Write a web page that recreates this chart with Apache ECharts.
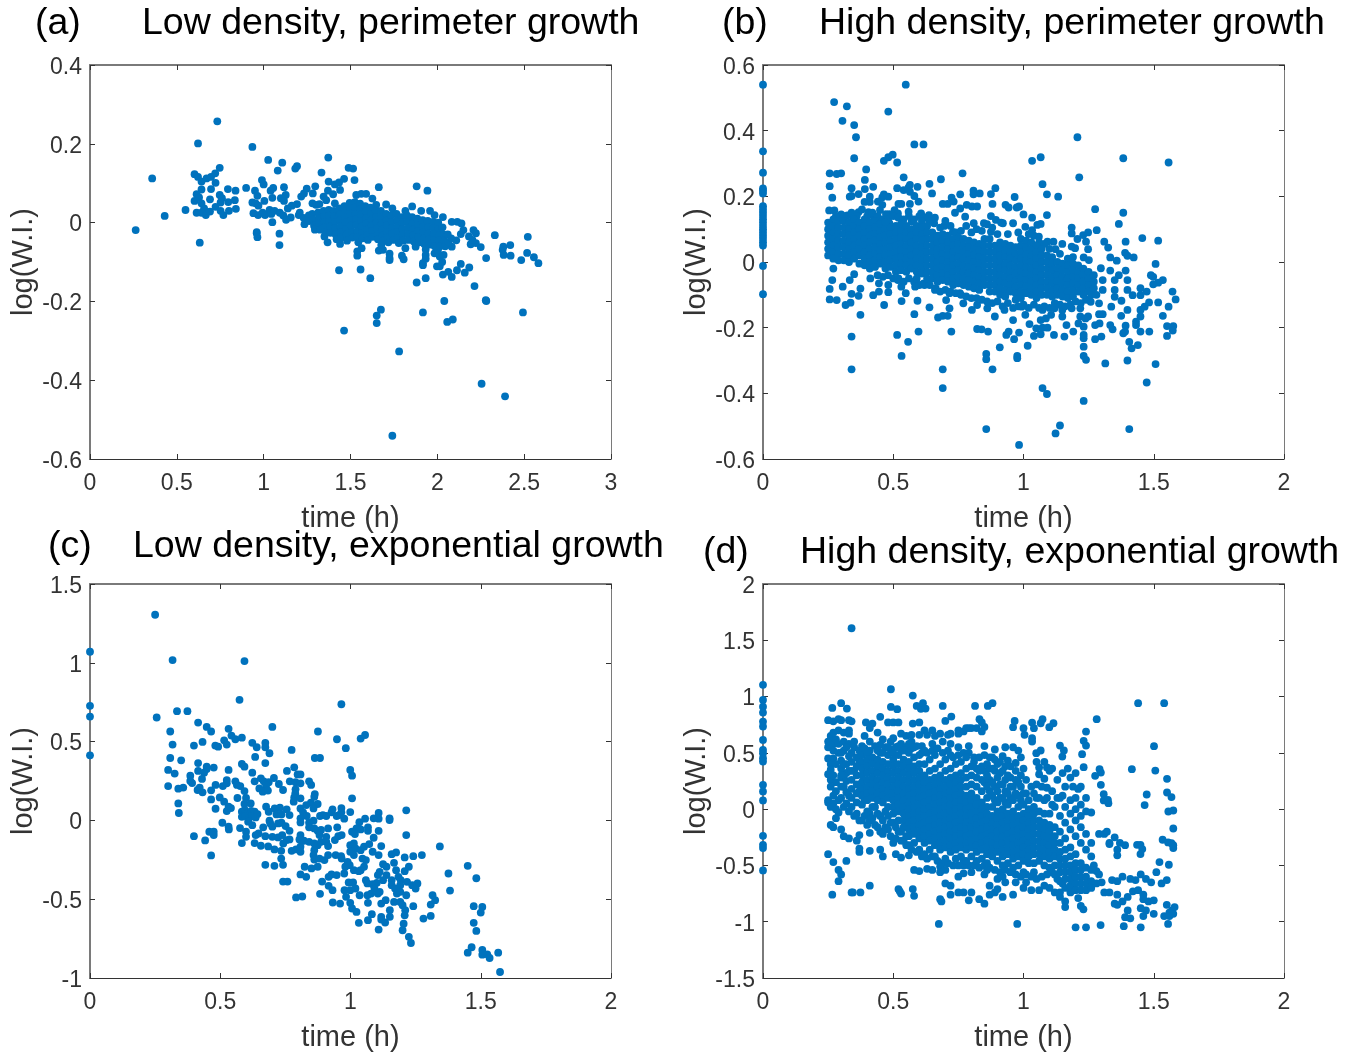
<!DOCTYPE html>
<html>
<head>
<meta charset="utf-8">
<title>Wobbliness over time</title>
<script src="https://cdn.jsdelivr.net/npm/echarts@6/dist/echarts.min.js"></script>
<style>
  html, body { margin: 0; padding: 0; background: #fff; }
  #main { width: 1365px; height: 1055px; }
</style>
</head>
<body>
<div id="main"></div>
<script>
// panel text
var panelTags = ['(a)', '(b)', '(c)', '(d)'];
var panelTitles = [
  'Low density, perimeter growth',
  'High density, perimeter growth',
  'Low density, exponential growth',
  'High density, exponential growth'
];
var xName = 'time (h)';
var yName = 'log(W.I.)';

// [time, log(W.I.)]
var lowPerimeter = [
[.263,-.019],[.358,.112],[.43,.017],[.55,.032],[.622,.201],[.733,.257],[.632,-.051],[.602,.123],[.622,.116],[.642,.104],[.671,.112],[.697,.116],[.721,.125],[.723,.101],[.747,.139],[.697,.085],[.642,.084],[.614,.072],[.628,.064],[.602,.055],[.691,.059],[.747,.07],[.76,.062],[.752,.051],[.796,.052],[.834,.057],[.794,.085],[.838,.081],[.642,.049],[.657,.036],[.614,.025],[.642,.025],[.667,.019],[.691,.028],[.723,.04],[.752,.03],[.768,.019],[.8,.03],[.84,.035],[.899,.088],[.935,.192],[1.026,.159],[1.081,.132],[1.107,.152],[1.182,.137],[1.192,.143],[1.333,.127],[1.372,.165],[.99,.108],[1.0,.097],[.95,.081],[1.04,.081],[1.055,.088],[1.117,.09],[.964,.068],[1.05,.063],[1.127,.07],[1.099,.062],[1.117,.055],[1.004,.055],[.935,.051],[.954,.049],[.97,.043],[.941,.024],[.968,.019],[.994,.025],[1.008,.019],[1.034,.032],[1.044,.022],[1.05,.001],[1.063,.03],[1.093,.025],[1.113,.018],[1.129,.007],[1.139,.036],[1.162,.043],[1.192,.047],[1.156,.013],[1.202,.019],[1.208,.025],[1.216,.066],[1.232,.074],[1.248,.086],[1.283,.074],[1.297,.092],[1.281,.049],[1.301,.045],[1.321,.047],[.96,-.024],[.96,-.027],[.964,-.037],[1.091,-.028],[1.091,-.057],
[1.374,.104],[1.41,.097],[1.434,.102],[1.463,.111],[1.523,.108],[1.489,.139],[1.515,.137],[1.44,.083],[1.4,.072],[1.37,.081],[1.345,.066],[1.36,.057],[1.41,.049],[1.533,.07],[1.562,.073],[1.59,.073],[1.626,.061],[1.663,.09],[1.648,.045],[1.705,.046],[1.741,.036],[1.855,.041],[1.816,.03],[1.881,.092],[1.943,.081],[1.907,.03],[1.958,.03],[1.984,.019],[2.032,.014],[2.083,.002],[2.115,.002],[2.139,-.002],
[1.434,-.121],[1.558,-.119],[1.614,-.141],[1.675,-.221],[1.651,-.236],[1.651,-.255],[1.463,-.274],[1.78,-.327],[1.741,-.541],[1.917,-.228],[2.04,-.199],[2.057,-.252],[2.089,-.246],[1.881,-.152],[1.933,-.141],[2.279,-.197],[2.282,-.199],[2.493,-.228],[2.255,-.409],[2.39,-.441],[2.214,-.161],[2.032,-.132],[2.063,-.125],[2.083,-.138],[2.113,-.121],[2.135,-.105],[2.158,-.127],[2.184,-.114],[2.281,-.09],[2.25,-.062],[2.331,-.032],[2.38,-.061],[2.376,-.069],[2.382,-.082],[2.42,-.057],[2.422,-.084],[2.483,-.095],[2.517,-.077],[2.521,-.036],[2.556,-.088],[2.582,-.103],[2.208,-.019],[2.222,-.027],[2.182,-.035],[2.192,-.055],[2.222,-.052],[2.202,-.044],[2.135,-.029],[2.15,-.019],[2.109,-.045],[2.083,-.061],
[1.539,-.073],[1.539,-.084],[1.564,-.065],[1.663,-.071],[1.687,-.069],[1.677,-.057],[1.725,-.079],[1.725,-.09],[1.725,-.095],[1.796,-.084],[1.806,-.093],[1.816,-.065],[1.875,-.061],[1.933,-.068],[1.933,-.082],[1.933,-.092],[1.917,-.103],[1.917,-.108],[1.998,-.111],[2.014,-.111],[2.028,-.1],[2.014,-.086],[1.984,-.078],[2.036,-.082],[2.004,-.069],[1.368,-.05],[1.35,-.035],[1.44,-.054],
[1.23,.012],[1.235,-.004],[1.26,.018],[1.262,.004],[1.28,.022],[1.285,.008],[1.29,-.008],[1.295,-.018],[1.315,.026],[1.318,.012],[1.32,-.002],[1.325,-.018],[1.345,.03],[1.348,.016],[1.35,.002],[1.352,-.012],[1.356,-.024],[1.375,.032],[1.378,.018],[1.38,.004],[1.382,-.01],[1.385,-.026],[1.405,.03],[1.408,.016],[1.41,.002],[1.412,-.014],[1.415,-.03],[1.42,-.042],[1.435,.036],[1.438,.02],[1.44,.006],[1.442,-.01],[1.445,-.024],[1.448,-.038],[1.465,.042],[1.468,.028],[1.47,.014],[1.472,0],[1.475,-.016],[1.478,-.03],[1.48,-.046],[1.495,.05],[1.498,.036],[1.5,.022],[1.502,.006],[1.505,-.008],[1.508,-.024],[1.51,-.038],[1.525,.052],[1.528,.038],[1.53,.022],[1.532,.008],[1.535,-.006],[1.538,-.022],[1.54,-.036],[1.545,-.05],[1.555,.048],[1.558,.034],[1.56,.02],[1.562,.004],[1.565,-.01],[1.568,-.026],[1.57,-.04],[1.585,.042],[1.588,.028],[1.59,.012],[1.592,-.002],[1.595,-.018],[1.598,-.032],[1.6,-.044],[1.615,.038],[1.618,.022],[1.62,.008],[1.622,-.008],[1.625,-.022],[1.628,-.036],[1.645,.03],[1.648,.014],[1.65,0],[1.652,-.014],[1.655,-.03],[1.658,-.042],[1.675,.03],[1.678,.014],[1.68,-.002],[1.682,-.018],[1.685,-.032],[1.688,-.046],[1.705,.022],[1.708,.006],[1.71,-.008],[1.712,-.024],[1.715,-.038],[1.718,-.05],[1.735,.018],[1.738,.002],[1.74,-.014],[1.742,-.028],[1.745,-.044],[1.765,.022],[1.768,.006],[1.77,-.01],[1.772,-.024],[1.775,-.04],[1.778,-.052],[1.795,.014],[1.798,0],[1.8,-.016],[1.802,-.03],[1.805,-.046],[1.825,.018],[1.828,.002],[1.83,-.014],[1.832,-.03],[1.835,-.044],[1.855,.014],[1.858,-.002],[1.86,-.018],[1.862,-.032],[1.865,-.048],[1.885,.01],[1.888,-.006],[1.89,-.022],[1.892,-.036],[1.895,-.05],[1.915,.006],[1.918,-.01],[1.92,-.024],[1.922,-.04],[1.925,-.054],[1.945,.004],[1.948,-.012],[1.95,-.028],[1.952,-.042],[1.955,-.056],[1.975,.002],[1.978,-.014],[1.98,-.03],[1.982,-.044],[1.985,-.06],[2.005,0],[2.008,-.016],[2.01,-.032],[2.012,-.046],[2.015,-.06],[2.03,-.012],[2.035,-.03],[2.04,-.046],[2.045,-.06],[2.06,-.03],[2.065,-.05],[2.08,-.04]
];

var highPerimeter = [
[0,.54],[0,.337],[0,.272],[0,.224],[0,.217],[0,.209],[0,.17],[0,.16],[0,.15],[0,.14],[0,.13],[0,.12],[0,.11],[0,.1],[0,.09],[0,.08],[0,.07],[0,.06],[0,.05],[0,-.012],[0,-.098],
[.273,.487],[.322,.474],[.305,.43],[.35,.417],[.357,.38],[.35,.316],[.481,.458],[.548,.54],[.581,.358],[.616,.358],[.464,.308],[.481,.319],[.498,.327],[.515,.303],[.396,.282],[.256,.27],[.283,.268],[.3,.27],[.256,.231],[.266,.196],[.34,.225],[.391,.25],[.391,.222],[.423,.229],[.41,.199],[.34,.201],[.367,.207],[.333,.199],[.39,.183],[.41,.183],[.464,.206],[.481,.199],[.458,.197],[.441,.184],[.458,.174],[.449,.158],[.515,.225],[.54,.258],[.54,.219],[.564,.235],[.559,.227],[.593,.229],[.639,.238],[.649,.209],[.683,.252],[.766,.27],[.564,.214],[.581,.201],[.597,.184],[.564,.177],[.531,.177],[.52,.177],[.559,.153],[.505,.158],[.485,.146],[.472,.146],[.69,.177],[.709,.177],[.724,.196],[.757,.206],[.732,.184],[.757,.163],[.737,.15],[.782,.174],[.802,.169],[.822,.169],[.808,.217],[.808,.206],[.832,.209],[.875,.207],[.892,.225],[.881,.177],[.966,.198],[.931,.174],[.943,.166],[.974,.166],[.983,.169],[.875,.14],[.894,.128],[.914,.12],[1.0,.145],[1.033,.135],[1.09,.143],[1.073,.237],[1.09,.206],[1.133,.199],[1.066,.116],[1.053,.113],[1.033,.308],[1.066,.319],[1.207,.38],[1.214,.258],[1.275,.161],[1.383,.316],[1.557,.303],[1.383,.15],[1.366,.116],[1.281,.097],[1.456,.073],[1.517,.065],[1.185,.105],[1.185,.087],[1.207,.07],[1.229,.082],[1.248,.09],[1.24,.062],[1.248,.039],[1.31,.062],[1.325,.044],[1.333,.014],[1.358,.004],[1.392,.062],[1.39,.028],[1.399,.019],[1.423,.014],[1.115,.062],[1.149,.055],[1.123,.039],[1.185,.047],[1.198,.042],[1.231,.014],[1.251,.006],
[.256,-.082],[.256,-.114],[.283,-.116],[.317,-.131],[.336,-.124],[.374,-.161],[.34,-.097],[.367,-.103],[.34,-.227],[.34,-.327],[.266,-.055],[.306,-.075],[.333,-.055],[.374,-.081],[.35,-.037],[.423,-.101],[.445,-.09],[.481,-.092],[.481,-.07],[.465,-.131],[.532,-.119],[.548,-.095],[.593,-.118],[.581,-.159],[.639,-.138],[.515,-.222],[.557,-.243],[.597,-.212],[.532,-.286],[.69,-.327],[.69,-.384],[.672,-.169],[.69,-.164],[.709,-.164],[.723,-.212],[.716,-.141],[.822,-.204],[.839,-.205],[.864,-.212],[.909,-.26],[.857,-.28],[.857,-.296],[.881,-.327],[.857,-.509],[.976,-.286],[.976,-.293],[.983,-.557],[1.073,-.384],[1.09,-.402],[1.231,-.423],[1.14,-.498],[1.123,-.522],[1.406,-.509],[1.399,-.3],[1.473,-.367],[1.507,-.311],[1.314,-.309],[1.231,-.286],[1.24,-.298],[1.231,-.258],[1.231,-.232],[1.231,-.222],[.934,-.222],[.943,-.212],[.964,-.235],[.983,-.215],[1.016,-.255],[1.04,-.225],[1.066,-.22],[1.049,-.202],[1.073,-.2],[1.092,-.2],[1.117,-.222],[1.157,-.227],[1.023,-.189],[1.275,-.235],[1.299,-.227],[1.275,-.192],[1.292,-.187],[1.333,-.192],[1.342,-.205],[1.383,-.217],[1.39,-.212],[1.392,-.194],[1.406,-.243],[1.415,-.263],[1.439,-.253],[1.449,-.212],[1.483,-.212],[1.551,-.225],[1.551,-.195],[1.575,-.195],[1.573,-.209],[1.432,-.182],[1.432,-.192],[1.375,-.164],[1.449,-.146],[1.449,-.166],[1.465,-.136],[1.482,-.123],[1.517,-.123],[1.557,-.136],[1.535,-.164],[1.584,-.114],[1.572,-.09],[1.489,-.04],[1.498,-.045],[1.535,-.055],[1.517,-.063],[1.498,-.068],[1.507,-.006],[1.473,-.09],[1.449,-.08],[1.449,-.101],[1.419,-.101],[1.399,-.085],[1.399,-.146],[1.376,-.118],[1.337,-.136],[1.392,-.026],[1.366,-.04],[1.399,-.055],[1.35,-.055],[1.35,-.085],[1.35,-.106],[1.297,-.019],[1.333,-.026],[1.304,-.055],[1.304,-.085],[1.29,-.126],[1.304,-.159],[1.29,-.159],[1.218,-.166],[1.238,-.172],[1.248,-.166],[1.211,-.187],[1.191,-.212],[1.165,-.192],[1.231,-.197],[1.149,-.166],[1.149,-.146],[1.185,-.141],[1.218,-.141],[1.258,-.121],[1.073,-.146],[1.086,-.172],[1.106,-.161],[1.119,-.141],[1.066,-.177],[1.007,-.161],[.993,-.136],[.96,-.177],[.927,-.146],[.89,-.166],[.861,-.141],[.822,-.131],[.802,-.146],[.756,-.095],[.769,-.126],[.703,-.116],[.716,-.095],[.663,-.08],[.617,-.065],[.584,-.075],[.531,-.075],[.518,-.055],[.445,-.065],[.412,-.05],
[.254,.157],[.274,.157],[.3,.145],[.324,.142],[.367,.152],[.346,.13],[.405,.152],[.425,.138],[.445,.123],[.485,.118],[.518,.148],[.571,.123],[.607,.148],[.637,.143],[.657,.118],[.696,.11],[.729,.092],[.776,.138],[.809,.118],[.848,.118],[.875,.092],[.921,.118],[.96,.118],[1.007,.107],[1.033,.097],[1.059,.077],[1.092,.062],
[.28,.14],[.31,.14],[.34,.15],[.36,.14],[.38,.16],[.4,.14],[.42,.15],[.44,.14],[.46,.13],[.48,.13],[.5,.14],[.52,.135],[.54,.13],[.56,.14],[.58,.13],[.6,.14],[.62,.135],[.64,.125],[.66,.135],[.68,.105],[.7,.125],[.72,.11],[.74,.09],[.76,.095],[.78,.11],[.8,.09],[.82,.1],[.84,.095],[.86,.115],[.88,.105],[.9,.085],[.94,.085],[.98,.09],[1.02,.085],[1.04,.08],[1.06,.06],[1.08,.055],[1.1,.04],[1.14,.025],
[.44,-.04],[.46,-.045],[.48,-.04],[.5,-.05],[.52,-.05],[.54,-.06],[.56,-.05],[.58,-.06],[.6,-.07],[.62,-.07],[.64,-.07],[.66,-.085],[.68,-.09],[.7,-.085],[.72,-.09],[.74,-.095],[.76,-.1],[.78,-.105],[.8,-.11],[.82,-.11],[.84,-.115],[.86,-.12],[.88,-.125],[.9,-.12],[.92,-.135],[.94,-.125],[.96,-.14],[.98,-.135],[1.0,-.13],[1.02,-.14],[1.04,-.13],[1.06,-.14],[1.08,-.135],[1.1,-.14],[1.12,-.125],[1.14,-.13],[1.16,-.135],[1.18,-.13],[1.2,-.12],[1.22,-.125],[1.24,-.115],[1.26,-.1],[1.28,-.1],
[.25,.12],[.25,.1],[.25,.08],[.25,.06],[.25,.04],[.25,.02],[.27,.13],[.27,.11],[.27,.09],[.27,.07],[.27,.05],[.27,.03],[.27,.01],[.27,-.02],[.29,.125],[.29,.105],[.29,.085],[.29,.065],[.29,.045],[.29,.025],[.29,.005],[.31,.125],[.31,.105],[.31,.085],[.31,.065],[.31,.045],[.31,.025],[.31,.005],[.33,.12],[.33,.1],[.33,.08],[.33,.06],[.33,.04],[.33,.02],[.33,0],[.35,.13],[.35,.11],[.35,.09],[.35,.07],[.35,.05],[.35,.03],[.35,.01],[.37,.12],[.37,.1],[.37,.08],[.37,.06],[.37,.04],[.37,.02],[.37,-.005],[.39,.13],[.39,.11],[.39,.09],[.39,.07],[.39,.05],[.39,.03],[.39,.01],[.39,-.01],[.41,.12],[.41,.1],[.41,.08],[.41,.06],[.41,.04],[.41,.02],[.41,0],[.41,-.02],[.43,.125],[.43,.105],[.43,.085],[.43,.065],[.43,.045],[.43,.025],[.43,.005],[.43,-.015],[.45,.115],[.45,.095],[.45,.075],[.45,.055],[.45,.035],[.45,.015],[.45,-.005],[.47,.12],[.47,.1],[.47,.08],[.47,.06],[.47,.04],[.47,.02],[.47,0],[.47,-.02],[.49,.105],[.49,.085],[.49,.065],[.49,.045],[.49,.025],[.49,.005],[.49,-.015],[.51,.11],[.51,.09],[.51,.07],[.51,.05],[.51,.03],[.51,.01],[.51,-.01],[.51,-.03],[.53,.115],[.53,.095],[.53,.075],[.53,.055],[.53,.035],[.53,.015],[.53,-.005],[.53,-.025],[.55,.11],[.55,.09],[.55,.07],[.55,.05],[.55,.03],[.55,.01],[.55,-.01],[.55,-.03],[.57,.1],[.57,.08],[.57,.06],[.57,.04],[.57,.02],[.57,0],[.57,-.02],[.59,.11],[.59,.09],[.59,.07],[.59,.05],[.59,.03],[.59,.01],[.59,-.01],[.59,-.03],[.59,-.05],[.61,.125],[.61,.105],[.61,.085],[.61,.065],[.61,.045],[.61,.025],[.61,.005],[.61,-.015],[.61,-.035],[.63,.11],[.63,.09],[.63,.07],[.63,.05],[.63,.03],[.63,.01],[.63,-.01],[.63,-.03],[.63,-.05],[.65,.09],[.65,.07],[.65,.05],[.65,.03],[.65,.01],[.65,-.01],[.65,-.03],[.65,-.05],[.67,.08],[.67,.06],[.67,.04],[.67,.02],[.67,0],[.67,-.02],[.67,-.04],[.67,-.06],[.69,.085],[.69,.065],[.69,.045],[.69,.025],[.69,.005],[.69,-.015],[.69,-.035],[.69,-.055],[.71,.08],[.71,.06],[.71,.04],[.71,.02],[.71,0],[.71,-.02],[.71,-.04],[.71,-.06],[.73,.07],[.73,.05],[.73,.03],[.73,.01],[.73,-.01],[.73,-.03],[.73,-.05],[.73,-.07],[.75,.075],[.75,.055],[.75,.035],[.75,.015],[.75,-.005],[.75,-.025],[.75,-.045],[.75,-.065],[.77,.07],[.77,.05],[.77,.03],[.77,.01],[.77,-.01],[.77,-.03],[.77,-.05],[.77,-.07],[.79,.065],[.79,.045],[.79,.025],[.79,.005],[.79,-.015],[.79,-.035],[.79,-.055],[.79,-.075],[.81,.06],[.81,.04],[.81,.02],[.81,0],[.81,-.02],[.81,-.04],[.81,-.06],[.81,-.08],[.83,.055],[.83,.035],[.83,.015],[.83,-.005],[.83,-.025],[.83,-.045],[.83,-.065],[.83,-.085],[.85,.07],[.85,.05],[.85,.03],[.85,.01],[.85,-.01],[.85,-.03],[.85,-.05],[.85,-.07],[.87,.07],[.87,.05],[.87,.03],[.87,.01],[.87,-.01],[.87,-.03],[.87,-.05],[.87,-.07],[.87,-.09],[.89,.05],[.89,.03],[.89,.01],[.89,-.01],[.89,-.03],[.89,-.05],[.89,-.07],[.89,-.09],[.91,.06],[.91,.04],[.91,.02],[.91,0],[.91,-.02],[.91,-.04],[.91,-.06],[.91,-.08],[.91,-.1],[.93,.055],[.93,.035],[.93,.015],[.93,-.005],[.93,-.025],[.93,-.045],[.93,-.065],[.93,-.085],[.93,-.105],[.95,.05],[.95,.03],[.95,.01],[.95,-.01],[.95,-.03],[.95,-.05],[.95,-.07],[.95,-.09],[.97,.045],[.97,.025],[.97,.005],[.97,-.015],[.97,-.035],[.97,-.055],[.97,-.075],[.97,-.095],[.97,-.115],[.99,.07],[.99,.05],[.99,.03],[.99,.01],[.99,-.01],[.99,-.03],[.99,-.05],[.99,-.07],[.99,-.09],[.99,-.11],[1.01,.065],[1.01,.045],[1.01,.025],[1.01,.005],[1.01,-.015],[1.01,-.035],[1.01,-.055],[1.01,-.075],[1.01,-.095],[1.03,.06],[1.03,.04],[1.03,.02],[1.03,0],[1.03,-.02],[1.03,-.04],[1.03,-.06],[1.03,-.08],[1.03,-.1],[1.05,.05],[1.05,.03],[1.05,.01],[1.05,-.01],[1.05,-.03],[1.05,-.05],[1.05,-.07],[1.05,-.09],[1.05,-.11],[1.07,.04],[1.07,.02],[1.07,0],[1.07,-.02],[1.07,-.04],[1.07,-.06],[1.07,-.08],[1.07,-.1],[1.09,.02],[1.09,0],[1.09,-.02],[1.09,-.04],[1.09,-.06],[1.09,-.08],[1.09,-.1],[1.11,.015],[1.11,-.005],[1.11,-.025],[1.11,-.045],[1.11,-.065],[1.11,-.085],[1.11,-.105],[1.13,0],[1.13,-.02],[1.13,-.04],[1.13,-.06],[1.13,-.08],[1.13,-.1],[1.15,-.005],[1.15,-.025],[1.15,-.045],[1.15,-.065],[1.15,-.085],[1.15,-.105],[1.17,.01],[1.17,-.01],[1.17,-.03],[1.17,-.05],[1.17,-.07],[1.17,-.09],[1.17,-.11],[1.19,.015],[1.19,-.005],[1.19,-.025],[1.19,-.045],[1.19,-.065],[1.19,-.085],[1.19,-.105],[1.21,-.01],[1.21,-.03],[1.21,-.05],[1.21,-.07],[1.21,-.09],[1.23,-.02],[1.23,-.04],[1.23,-.06],[1.23,-.08],[1.23,-.1],[1.25,-.03],[1.25,-.05],[1.25,-.07],[1.25,-.09],[1.27,-.04],[1.27,-.06],[1.27,-.08]
];

var lowExponential = [
[0,1.07],[0,.727],[0,.659],[0,.413],[.25,1.305],[.317,1.017],[.593,1.011],[.574,.765],[.965,.737],[.256,.653],[.334,.693],[.374,.693],[.415,.621],[.448,.593],[.465,.564],[.532,.581],[.543,.538],[.558,.515],[.583,.525],[.515,.508],[.525,.481],[.7,.593],[.875,.564],[.948,.515],[.982,.458],[1.039,.519],[1.056,.542],[.308,.564],[.317,.481],[.399,.475],[.432,.498],[.481,.475],[.492,.468],[.623,.492],[.64,.464],[.673,.492],[.673,.464],[.689,.426],[.774,.447],[.634,.403],[.673,.364],[.863,.396],[.883,.396],[.308,.396],[.35,.381],[.415,.364],[.3,.32],[.325,.297],[.415,.314],[.448,.341],[.448,.326],[.438,.303],[.43,.263],[.475,.335],[.385,.284],[.385,.25],[.392,.237],[.3,.218],[.339,.201],[.358,.208],[.421,.208],[.413,.193],[.432,.178],[.465,.191],[.482,.225],[.51,.218],[.525,.256],[.525,.235],[.532,.32],[.583,.358],[.593,.341],[.623,.303],[.558,.248],[.564,.225],[.577,.218],[.593,.186],[.632,.248],[.656,.267],[.667,.248],[.686,.242],[.676,.22],[.65,.203],[.663,.182],[.683,.189],[.706,.269],[.725,.231],[.741,.193],[.756,.314],[.784,.337],[.797,.292],[.808,.292],[.767,.248],[.789,.242],[.808,.235],[.841,.248],[.849,.225],[.789,.197],[.788,.172],[.784,.146],[.808,.14],[.782,.119],[.863,.167],[.861,.15],[.848,.112],[.874,.104],[.858,.076],[.83,.097],[.999,.32],[1.006,.284],[1.006,.14],[.999,.053],[1.214,.064],[1.214,-.093],[1.108,.047],[1.15,.013],[1.15,.002],[1.108,.011],[1.089,.013],[.339,.108],[.341,.047],[.498,.146],[.465,.133],[.482,.074],[.515,.119],[.532,.087],[.525,.059],[.541,.078],[.566,.142],[.599,.142],[.593,.104],[.617,.108],
[.583,.055],[.594,.066],[.607,.044],[.619,.061],[.632,.055],[.643,.04],[.583,.023],[.597,.028],[.61,.013],[.623,.028],[.636,.019],[.607,-.008],[.623,-.03],[.508,-.015],[.532,-.04],[.533,-.057],[.576,-.049],[.599,-.072],[.599,-.104],[.458,-.072],[.475,-.072],[.475,-.093],[.399,-.1],[.442,-.127],[.465,-.222],[.583,-.144],[.632,-.144],[.656,-.161],[.684,-.165],[.708,-.184],[.734,-.193],[.636,-.093],[.647,-.083],[.665,-.044],[.689,-.002],[.692,-.019],[.7,-.04],[.673,-.1],[.7,-.104],[.722,-.108],[.738,-.093],[.742,-.146],[.755,-.125],[.766,-.121],[.722,-.019],[.735,-.015],[.751,-.036],[.766,-.066],[.676,.087],[.686,.055],[.709,.076],[.729,.081],[.716,.038],[.735,.038],[.755,.07],[.766,.034],[.808,.076],[.818,.051],[.832,.028],[.808,.013],[.808,-.013],[.841,-.015],[.841,-.044],[.858,-.002],[.883,.028],[.894,.034],[.907,.028],[.931,.07],[.927,.051],[.947,.028],[.965,.078],[.965,.051],[.976,.011],[.956,.034],[1.034,-.011],[1.023,-.051],[1.006,-.072],[1.039,-.057],[1.056,.011],[1.067,-.044],[1.067,-.066],[1.108,-.066],[1.089,-.11],[1.017,-.087],[.949,-.044],[.914,-.051],[.887,-.061],[.874,-.066],[.861,-.051],[.881,-.093],[.907,-.104],[.953,-.1],[.94,-.125],[.966,-.093],[.808,-.093],[.804,-.121],[.821,-.129],[.841,-.136],[.861,-.146],[.874,-.157],[.887,-.136],[.907,-.136],[.914,-.163],[.774,-.193],[.791,-.184],[.808,-.199],[.808,-.167],[.861,-.189],[.858,-.22],[.861,-.248],[.881,-.242],[.9,-.252],[.914,-.22],[.943,-.22],[.966,-.242],[.964,-.227],[.989,-.263],[.98,-.294],[.997,-.284],[1.013,-.316],[1.032,-.322],[.976,-.337],[1.039,-.316],[.999,-.157],[1.013,-.146],[1.019,-.178],[.999,-.199],[1.013,-.22],[1.039,-.189],[1.052,-.167],[1.072,-.15],[1.085,-.199],[1.108,-.22],[1.118,-.163],[1.046,-.242],[1.059,-.252],[1.052,-.294],[1.158,-.214],[1.175,-.203],[1.208,-.235],[1.241,-.227],[1.274,-.22],[1.343,-.165],[1.167,-.269],[1.125,-.278],[1.138,-.294],[1.224,-.294],[1.208,-.322],[1.175,-.316],[1.112,-.326],[1.105,-.347],[1.138,-.347],[1.125,-.379],[1.158,-.379],[1.184,-.358],[1.193,-.379],[1.059,-.379],[1.065,-.4],[1.085,-.405],[1.101,-.396],[1.092,-.432],[1.112,-.453],[1.079,-.464],[1.158,-.411],[1.171,-.432],[1.191,-.411],[1.191,-.453],[1.178,-.464],[1.217,-.39],[1.237,-.411],[1.257,-.4],[1.25,-.432],[1.376,-.337],[1.382,-.445],[1.45,-.288],[1.483,-.367],[.808,-.343],[.83,-.358],[.824,-.294],[.85,-.305],[.874,-.294],[.673,-.282],[.708,-.288],[.741,-.282],[.734,-.242],[.741,-.388],[.758,-.388],[.791,-.489],[.815,-.483],[.883,-.466],[.891,-.388],[.916,-.358],[.927,-.343],[.947,-.347],[.916,-.415],[.931,-.443],[.993,-.394],[1.01,-.394],[.977,-.443],[.999,-.443],[1.019,-.432],[.983,-.485],[1.035,-.475],[.932,-.521],[.96,-.528],[.999,-.523],[1.006,-.559],[1.023,-.581],[1.067,-.523],[1.082,-.595],[1.067,-.633],[1.032,-.65],[1.118,-.612],[1.118,-.629],[1.133,-.648],[1.108,-.693],[1.151,-.57],[1.151,-.612],[1.065,-.475],[1.105,-.464],[1.118,-.528],[1.135,-.506],[1.167,-.517],[1.191,-.517],[1.2,-.538],[1.21,-.57],[1.208,-.602],[1.214,-.475],[1.241,-.544],[1.204,-.655],[1.2,-.697],[1.224,-.739],[1.232,-.778],[1.28,-.623],[1.308,-.606],[1.308,-.534],[1.315,-.475],[1.325,-.506],[1.473,-.544],[1.506,-.549],[1.5,-.585],[1.473,-.65],[1.483,-.701],[1.45,-.839],[1.465,-.805],[1.506,-.822],[1.506,-.852],[1.525,-.85],[1.534,-.873],[1.567,-.839],[1.574,-.962]
];

var highExponential = [
[0,1.104],[0,.97],[0,.91],[0,.858],[0,.778],[0,.734],[0,.615],[0,.527],[0,.497],[0,.453],[0,.423],[0,.216],[0,.157],[0,.077],[0,-.237],[0,-.317],[0,-.346],[0,-.544],
[.34,1.607],[.491,1.065],[.575,1.009],[.3,.941],[.266,.899],[.322,.893],[.491,.908],[.515,.888],[.59,.917],[.606,.891],[.614,.941],[.624,.893],[.69,.917],[.814,.917],[.863,.917],[.881,.941],[1.44,.941],[1.54,.941],[1.281,.799],[.723,.822],[.7,.784],[.831,.799],[.966,.784],[1.073,.799],[1.033,.769],[1.066,.763],[1.115,.763],[1.099,.728],[1.04,.719],[1.0,.719],[.96,.728],[1.004,.66],[1.033,.63],[1.033,.6],[1.24,.689],[1.231,.607],[1.24,.565],[1.225,.488],[1.231,.373],[1.501,.559],[1.14,.565],[1.155,.521],[1.149,.467],[1.066,.521],[1.049,.497],[1.416,.355],[1.506,.343],[1.551,.269],[1.292,.355],[1.297,.325],[1.275,.296],[1.297,.216],[1.308,.133],[1.308,.077],[1.324,.083],[1.326,.053],[1.473,.13],[1.465,.036],[1.551,.148],[1.568,.107],[1.556,-.021],[1.575,-.012],[1.575,-.172],[1.534,-.272],[1.555,-.296],[1.568,-.302],[1.575,-.32],[1.575,-.346],[1.436,-.317],[1.449,-.317],[1.456,-.355],[1.449,-.399],[1.522,-.47],[1.558,-.494],
// upper left fringe
[.25,.79],[.27,.78],[.29,.8],[.3,.79],[.33,.79],[.34,.78],[.395,.77],[.42,.76],[.45,.82],[.48,.77],[.5,.77],[.52,.77],[.575,.76],[.6,.77],[.25,.6],[.26,.65],[.27,.68],[.29,.7],[.31,.68],[.33,.67],[.33,.7],[.39,.65],[.41,.72],[.44,.68],[.46,.62],[.5,.63],[.53,.67],[.55,.65],[.57,.66],[.6,.66],[.63,.66],[.66,.65],[.68,.67],[.71,.66],[.75,.67],[.77,.69],[.78,.72],[.8,.72],[.82,.72],[.84,.69],[.85,.73],[.84,.77],[.79,.72],[.75,.7],[.72,.67],[.65,.7],[.62,.7],[.25,.55],[.25,.45],[.26,.4],[.27,.45],[.26,.35],[.25,.31],[.26,.26],[.28,.24],[.3,.28],[.32,.32],[.3,.43],[.31,.6],[.33,.58],[.35,.6],[.38,.56],[.41,.6],[.45,.57],[.49,.6],[.53,.58],[.57,.6],[.61,.56],[.65,.58],[.69,.6],[.72,.58],[.75,.55],[.79,.56],[.85,.56],[.89,.53],[.93,.55],[.96,.55],[.98,.52],[.99,.46],[.94,.43],[.88,.46],[.92,.47],[.97,.41],[1.0,.36],[1.06,.37],[1.09,.37],[1.11,.36],[1.05,.42],[1.08,.42],[1.1,.34],[1.06,.31],[1.08,.27],[1.05,.22],[1.09,.19],
[.26,.6],[.27,.58],[.28,.62],[.29,.58],[.27,.52],[.29,.5],[.31,.52],[.33,.47],[.3,.36],[.28,.4],[.31,.3],[.27,.3],[.26,.2],[.28,.16],[.27,.12],[.29,.08],[.35,.55],[.37,.52],[.39,.54],[.41,.52],[.43,.56],[.45,.5],[.47,.55],[.49,.53],[.51,.55],[.53,.52],[.55,.55],[.57,.54],[.59,.56],[.61,.5],[.63,.5],[.65,.52],[.67,.54],[.69,.5],[.71,.52],[.73,.46],[.75,.48],[.77,.5],[.79,.5],[.81,.46],[.83,.46],[.85,.48],[.87,.46],[.89,.44],[.91,.42],[.93,.38],[.95,.38],[.97,.34],[.99,.3],[.31,.02],[.33,-.02],[.35,-.06],[.37,-.1],[.39,-.06],[.41,-.1],[.43,-.14],[.45,-.2],[.47,-.16],[.49,-.24],[.51,-.26],[.53,-.28],[.55,-.32],[.57,-.36],[.59,-.38],[.61,-.42],[.63,-.44],[.65,-.42],[.67,-.46],[.69,-.48],[.71,-.48],[.73,-.5],[.75,-.5],[.77,-.46],[.79,-.5],[.81,-.5],[.83,-.52],[.85,-.5],[.87,-.52],[.89,-.54],[.91,-.56],[.93,-.54],[.95,-.56],[.97,-.58],[.99,-.6],[1.01,-.58],[1.03,-.6],[1.05,-.62],[1.07,-.6],[1.09,-.58],[1.11,-.56],[1.13,-.62],[1.15,-.66],
[.81,.42],[.83,.34],[.85,.34],[.85,.24],[.87,.36],[.87,.26],[.87,.16],[.89,.34],[.89,.2],[.89,.08],[.91,.32],[.91,.22],[.91,.1],[.93,.26],[.93,.16],[.93,.06],[.95,.28],[.95,.2],[.95,.1],[.97,.26],[.97,.14],[.99,.2],[.99,.08],[1.01,.26],[1.01,.14],[1.03,.2],[1.05,.1],[1.07,.2],[1.09,.1],[1.11,.16],[1.11,.04],[1.13,.26],[1.13,.1],[1.15,.32],[1.15,.12],[1.17,.36],[1.19,.2],[1.21,.18],[.31,.4],[.31,.2],[.33,.34],[.33,.12],[.35,.34],[.37,.42],[.37,.16],[.39,.08],[.41,-.04],[.43,.02],[.45,-.06],[.47,-.02],[.49,-.12],[.51,-.16],[.53,-.2],[.55,-.24],
// lower fringe and right tail
[.25,.08],[.25,.06],[.27,.05],[.26,.02],[.28,.0],[.29,-.03],[.28,-.08],[.26,-.14],[.27,-.16],[.3,-.18],[.31,-.24],[.33,-.26],[.36,-.28],[.37,-.23],[.41,-.21],[.25,-.4],[.27,-.47],[.29,-.54],[.3,-.58],[.29,-.64],[.32,-.46],[.37,-.35],[.37,-.38],[.41,-.37],[.45,-.36],[.46,-.42],[.51,-.4],[.53,-.43],[.56,-.41],[.266,-.76],[.34,-.74],[.345,-.74],[.374,-.74],[.41,-.68],[.52,-.71],[.525,-.73],[.53,-.75],[.575,-.71],[.58,-.77],[.68,-.8],[.685,-.82],[.72,-.76],[.75,-.74],[.77,-.74],[.79,-.81],[.8,-.74],[.83,-.8],[.85,-.84],[.87,-.76],[.89,-.74],[.9,-.71],[.92,-.78],[.96,-.76],[.58,-.54],[.6,-.55],[.63,-.53],[.65,-.54],[.68,-.51],[.68,-.56],[.7,-.54],[.75,-.6],[.72,-.68],[.7,-.66],[.77,-.5],[.77,-.57],[.8,-.56],[.85,-.58],[.86,-.54],[.87,-.68],[.9,-.62],[.92,-.6],[.93,-.65],[.95,-.56],[.97,-.65],[1.0,-.7],[1.01,-.65],[1.03,-.72],[1.06,-.72],[1.08,-.68],[1.1,-.7],[1.12,-.74],[1.14,-.78],[1.16,-.82],[1.18,-.74],[1.21,-.79],[1.22,-.86],[1.23,-.89],[1.16,-.87],[1.14,-.74],[1.2,-1.05],[1.24,-1.05],[1.296,-1.03],[1.385,-1.04],[1.45,-1.05],[.675,-1.02],[.976,-1.02],[1.555,-1.02],
[1.28,-.66],[1.3,-.65],[1.31,-.74],[1.33,-.74],[1.36,-.76],[1.35,-.84],[1.36,-.85],[1.38,-.82],[1.4,-.78],[1.42,-.73],[1.44,-.72],[1.46,-.76],[1.36,-.64],[1.34,-.63],[1.38,-.6],[1.41,-.62],[1.43,-.63],[1.45,-.58],[1.47,-.62],[1.49,-.65],[1.46,-.8],[1.48,-.82],[1.5,-.81],[1.47,-.9],[1.45,-.88],[1.4,-.9],[1.39,-.96],[1.41,-.97],[1.46,-.95],[1.5,-.93],[1.51,-.56],[1.53,-.66],[1.55,-.63],[1.57,-.9],[1.55,-.85],[1.56,-.92],[1.58,-.87],[1.54,-.95],[1.56,-.95],[1.575,-.93],[1.33,-.3],[1.36,-.36],[1.37,-.3],[1.39,-.32],[1.35,-.25],[1.29,-.22],[1.31,-.22],[1.32,-.2],[1.33,-.31],[1.36,-.41],[1.29,-.58],[1.27,-.5],[1.28,-.55],
// thick cloud
[.3,.5],[.3,.3],[.3,.2],[.3,.1],[.32,.55],[.32,.4],[.32,.25],[.32,.15],[.32,.05],[.34,.5],[.34,.42],[.34,.34],[.34,.26],[.34,.18],[.34,.1],[.34,.02],[.36,.46],[.36,.38],[.36,.3],[.36,.22],[.36,.14],[.36,.06],[.36,-.04],[.38,.48],[.38,.42],[.38,.36],[.38,.3],[.38,.24],[.38,.18],[.38,.12],[.38,.04],[.38,-.1],[.4,.5],[.4,.44],[.4,.38],[.4,.32],[.4,.26],[.4,.2],[.4,.14],[.4,.08],[.4,-.02],[.4,-.14],[.42,.46],[.42,.4],[.42,.34],[.42,.28],[.42,.22],[.42,.16],[.42,.1],[.42,.02],[.42,-.08],[.44,.52],[.44,.44],[.44,.38],[.44,.32],[.44,.26],[.44,.2],[.44,.14],[.44,.08],[.44,-.04],[.44,-.16],[.46,.5],[.46,.42],[.46,.36],[.46,.3],[.46,.24],[.46,.18],[.46,.12],[.46,.06],[.46,-.1],[.46,-.22],[.48,.55],[.48,.48],[.48,.4],[.48,.34],[.48,.28],[.48,.22],[.48,.16],[.48,.1],[.48,.02],[.48,-.06],[.48,-.18],[.5,.5],[.5,.44],[.5,.38],[.5,.32],[.5,.26],[.5,.2],[.5,.14],[.5,.08],[.5,.02],[.5,-.04],[.5,-.12],[.5,-.3],[.52,.56],[.52,.48],[.52,.4],[.52,.34],[.52,.28],[.52,.22],[.52,.16],[.52,.1],[.52,.04],[.52,-.02],[.52,-.1],[.52,-.2],[.54,.52],[.54,.44],[.54,.38],[.54,.32],[.54,.26],[.54,.2],[.54,.14],[.54,.08],[.54,.02],[.54,-.04],[.54,-.1],[.54,-.16],[.54,-.28],[.56,.58],[.56,.5],[.56,.42],[.56,.36],[.56,.3],[.56,.24],[.56,.18],[.56,.12],[.56,.06],[.56,0],[.56,-.06],[.56,-.12],[.56,-.18],[.56,-.24],[.56,-.32],[.58,.55],[.58,.46],[.58,.38],[.58,.32],[.58,.26],[.58,.2],[.58,.14],[.58,.08],[.58,.02],[.58,-.04],[.58,-.1],[.58,-.16],[.58,-.22],[.58,-.3],[.6,.48],[.6,.4],[.6,.34],[.6,.28],[.6,.22],[.6,.16],[.6,.1],[.6,.04],[.6,-.02],[.6,-.08],[.6,-.14],[.6,-.2],[.6,-.26],[.6,-.36],[.62,.52],[.62,.4],[.62,.3],[.62,.24],[.62,.18],[.62,.12],[.62,.06],[.62,0],[.62,-.06],[.62,-.12],[.62,-.18],[.62,-.24],[.62,-.3],[.62,-.4],[.64,.44],[.64,.34],[.64,.26],[.64,.2],[.64,.14],[.64,.08],[.64,.02],[.64,-.04],[.64,-.1],[.64,-.16],[.64,-.22],[.64,-.28],[.64,-.36],[.66,.48],[.66,.36],[.66,.28],[.66,.22],[.66,.16],[.66,.1],[.66,.04],[.66,-.02],[.66,-.08],[.66,-.14],[.66,-.2],[.66,-.26],[.66,-.32],[.66,-.42],[.68,.4],[.68,.3],[.68,.24],[.68,.18],[.68,.12],[.68,.06],[.68,0],[.68,-.06],[.68,-.12],[.68,-.18],[.68,-.24],[.68,-.3],[.68,-.36],[.7,.44],[.7,.34],[.7,.26],[.7,.2],[.7,.14],[.7,.08],[.7,.02],[.7,-.04],[.7,-.1],[.7,-.16],[.7,-.22],[.7,-.28],[.7,-.34],[.7,-.44],[.72,.48],[.72,.36],[.72,.28],[.72,.22],[.72,.16],[.72,.1],[.72,.04],[.72,-.02],[.72,-.08],[.72,-.14],[.72,-.2],[.72,-.26],[.72,-.32],[.72,-.38],[.74,.4],[.74,.3],[.74,.24],[.74,.18],[.74,.12],[.74,.06],[.74,0],[.74,-.06],[.74,-.12],[.74,-.18],[.74,-.24],[.74,-.3],[.74,-.36],[.74,-.44],[.76,.42],[.76,.32],[.76,.26],[.76,.2],[.76,.14],[.76,.08],[.76,.02],[.76,-.04],[.76,-.1],[.76,-.16],[.76,-.22],[.76,-.28],[.76,-.34],[.76,-.42],[.78,.46],[.78,.36],[.78,.28],[.78,.2],[.78,.12],[.78,.06],[.78,0],[.78,-.06],[.78,-.12],[.78,-.18],[.78,-.24],[.78,-.3],[.78,-.36],[.78,-.46],[.8,.38],[.8,.3],[.8,.22],[.8,.14],[.8,.08],[.8,.02],[.8,-.04],[.8,-.1],[.8,-.16],[.8,-.22],[.8,-.28],[.8,-.34],[.8,-.42],[.82,.36],[.82,.28],[.82,.2],[.82,.1],[.82,.04],[.82,-.02],[.82,-.08],[.82,-.14],[.82,-.2],[.82,-.26],[.82,-.32],[.82,-.38],[.82,-.46],[.84,.38],[.84,.26],[.84,.16],[.84,.06],[.84,0],[.84,-.06],[.84,-.12],[.84,-.18],[.84,-.24],[.84,-.3],[.84,-.36],[.84,-.44],[.86,.4],[.86,.3],[.86,.2],[.86,.1],[.86,.02],[.86,-.04],[.86,-.1],[.86,-.16],[.86,-.22],[.86,-.28],[.86,-.34],[.86,-.4],[.86,-.48],[.88,.36],[.88,.24],[.88,.12],[.88,.02],[.88,-.06],[.88,-.12],[.88,-.18],[.88,-.24],[.88,-.3],[.88,-.36],[.88,-.42],[.9,.4],[.9,.28],[.9,.16],[.9,.06],[.9,-.02],[.9,-.08],[.9,-.14],[.9,-.2],[.9,-.26],[.9,-.32],[.9,-.38],[.9,-.46],[.92,.34],[.92,.22],[.92,.1],[.92,0],[.92,-.06],[.92,-.12],[.92,-.18],[.92,-.24],[.92,-.3],[.92,-.36],[.92,-.42],[.92,-.5],[.94,.3],[.94,.14],[.94,.04],[.94,-.04],[.94,-.1],[.94,-.16],[.94,-.22],[.94,-.28],[.94,-.34],[.94,-.4],[.94,-.48],[.96,.2],[.96,.08],[.96,-.02],[.96,-.08],[.96,-.14],[.96,-.2],[.96,-.26],[.96,-.32],[.96,-.38],[.96,-.44],[.96,-.52],[.98,.24],[.98,.12],[.98,.02],[.98,-.06],[.98,-.12],[.98,-.18],[.98,-.24],[.98,-.3],[.98,-.36],[.98,-.42],[.98,-.5],[1.0,.14],[1.0,.04],[1.0,-.04],[1.0,-.1],[1.0,-.16],[1.0,-.22],[1.0,-.28],[1.0,-.34],[1.0,-.4],[1.0,-.46],[1.0,-.56],[1.02,.08],[1.02,0],[1.02,-.06],[1.02,-.12],[1.02,-.18],[1.02,-.24],[1.02,-.3],[1.02,-.36],[1.02,-.42],[1.02,-.48],[1.04,.14],[1.04,.02],[1.04,-.04],[1.04,-.1],[1.04,-.16],[1.04,-.22],[1.04,-.28],[1.04,-.34],[1.04,-.4],[1.04,-.48],[1.04,-.56],[1.06,.1],[1.06,-.02],[1.06,-.1],[1.06,-.16],[1.06,-.22],[1.06,-.28],[1.06,-.34],[1.06,-.4],[1.06,-.46],[1.08,.08],[1.08,-.04],[1.08,-.12],[1.08,-.18],[1.08,-.24],[1.08,-.3],[1.08,-.36],[1.08,-.42],[1.08,-.5],[1.1,-.04],[1.1,-.14],[1.1,-.2],[1.1,-.26],[1.1,-.32],[1.1,-.38],[1.1,-.44],[1.1,-.52],[1.12,.02],[1.12,-.16],[1.12,-.24],[1.12,-.3],[1.12,-.36],[1.12,-.42],[1.12,-.5],[1.12,-.58],[1.14,.1],[1.14,-.06],[1.14,-.2],[1.14,-.3],[1.14,-.38],[1.14,-.44],[1.14,-.5],[1.14,-.56],[1.14,-.64],[1.16,.2],[1.16,.02],[1.16,-.12],[1.16,-.26],[1.16,-.36],[1.16,-.44],[1.16,-.5],[1.16,-.56],[1.16,-.62],[1.16,-.7],[1.18,.28],[1.18,.08],[1.18,-.04],[1.18,-.18],[1.18,-.34],[1.18,-.42],[1.18,-.5],[1.18,-.56],[1.18,-.62],[1.18,-.68],[1.2,.32],[1.2,.1],[1.2,0],[1.2,-.1],[1.2,-.24],[1.2,-.4],[1.2,-.48],[1.2,-.54],[1.2,-.6],[1.2,-.66],[1.2,-.72],[1.22,.2],[1.22,.04],[1.22,-.06],[1.22,-.16],[1.22,-.3],[1.22,-.48],[1.22,-.54],[1.22,-.6],[1.22,-.66],[1.22,-.72],[1.24,.1],[1.24,-.02],[1.24,-.22],[1.24,-.36],[1.24,-.52],[1.24,-.6],[1.24,-.66],[1.24,-.72],[1.26,-.03],[1.26,-.3],[1.26,-.42],[1.26,-.54],[1.26,-.64],[1.26,-.7]
];

// x ticks and y ticks per panel
var xTicks = [
  ['0', '0.5', '1', '1.5', '2', '2.5', '3'],
  ['0', '0.5', '1', '1.5', '2'],
  ['0', '0.5', '1', '1.5', '2'],
  ['0', '0.5', '1', '1.5', '2']
];
var yTicks = [
  ['-0.6', '-0.4', '-0.2', '0', '0.2', '0.4'],
  ['-0.6', '-0.4', '-0.2', '0', '0.2', '0.4', '0.6'],
  ['-1', '-0.5', '0', '0.5', '1', '1.5'],
  ['-1.5', '-1', '-0.5', '0', '0.5', '1', '1.5', '2']
];
var xIntervals = [0.5, 0.5, 0.5, 0.5];
var yIntervals = [0.2, 0.2, 0.5, 0.5];
var panelPoints = [lowPerimeter, highPerimeter, lowExponential, highExponential];

// layout of the four boxes and the headings over them
var boxes = [
  { left: 90, top: 65, width: 521, height: 394 },
  { left: 763, top: 65, width: 521, height: 394 },
  { left: 90, top: 584, width: 521, height: 394 },
  { left: 763, top: 584, width: 521, height: 394 }
];
var tagPos = [[35, 5], [722, 5], [48, 528], [703, 534]];
var titlePos = [[142, 5], [819, 5], [133, 528], [800, 534]];

var font = '"Liberation Sans", Arial, sans-serif';
var dark = '#333333';
var soft = '#7a7a7a';

var option = {
  animation: false,
  backgroundColor: '#ffffff',
  title: [],
  grid: boxes,
  xAxis: [],
  yAxis: [],
  series: []
};

for (var i = 0; i < 4; i++) {
  (function (i) {
    var xs = xTicks[i], ys = yTicks[i];
    var xMax = Number(xs[xs.length - 1]);
    var yMin = Number(ys[0]), yMax = Number(ys[ys.length - 1]);
    var tick = { show: true, inside: true, length: 5, lineStyle: { color: dark, width: 1 } };

    option.title.push({
      text: panelTags[i], left: tagPos[i][0], top: tagPos[i][1], padding: 0,
      textStyle: { fontFamily: font, fontSize: 37.5, fontWeight: 'normal', color: '#000' }
    });
    option.title.push({
      text: panelTitles[i], left: titlePos[i][0], top: titlePos[i][1], padding: 0,
      textStyle: { fontFamily: font, fontSize: 37.5, fontWeight: 'normal', color: '#000' }
    });

    // bottom, with labels
    option.xAxis.push({
      type: 'value', gridIndex: i, position: 'bottom', min: 0, max: xMax, interval: xIntervals[i],
      name: xName, nameLocation: 'middle', nameGap: 45,
      nameTextStyle: { fontFamily: font, fontSize: 29, color: dark },
      axisLine: { show: true, onZero: false, lineStyle: { color: dark, width: 1 } },
      axisTick: tick, splitLine: { show: false },
      axisLabel: {
        fontFamily: font, fontSize: 23, color: dark, margin: 13, showMinLabel: true, showMaxLabel: true,
        formatter: function (v) { return String(v); }
      }
    });
    // top, ticks only
    option.xAxis.push({
      type: 'value', gridIndex: i, position: 'top', min: 0, max: xMax, interval: xIntervals[i],
      axisLine: { show: true, onZero: false, lineStyle: { color: soft, width: 2 } },
      axisTick: tick, axisLabel: { show: false }, splitLine: { show: false }
    });
    // left, with labels; top aligned with a negative pad so they sit level with the ticks
    option.yAxis.push({
      type: 'value', gridIndex: i, position: 'left', min: yMin, max: yMax, interval: yIntervals[i],
      name: yName, nameLocation: 'middle', nameGap: 49,
      nameTextStyle: { fontFamily: font, fontSize: 29, color: dark },
      axisLine: { show: true, onZero: false, lineStyle: { color: soft, width: 2 } },
      axisTick: tick, splitLine: { show: false },
      axisLabel: {
        fontFamily: font, fontSize: 23, color: dark, margin: 8, verticalAlign: 'top', padding: [-9, 0, 0, 0],
        showMinLabel: true, showMaxLabel: true,
        formatter: function (v) { return String(v); }
      }
    });
    // right, ticks only
    option.yAxis.push({
      type: 'value', gridIndex: i, position: 'right', min: yMin, max: yMax, interval: yIntervals[i],
      axisLine: { show: true, onZero: false, lineStyle: { color: soft, width: 1 } },
      axisTick: tick, axisLabel: { show: false }, splitLine: { show: false }
    });

    option.series.push({
      type: 'scatter', xAxisIndex: i * 2, yAxisIndex: i * 2, data: panelPoints[i],
      symbol: 'circle', symbolSize: 7.8, clip: false, z: 5,
      itemStyle: { color: '#0072bd', opacity: 1 },
      large: false, silent: true
    });
  })(i);
}

var chart = echarts.init(document.getElementById('main'), null, { renderer: 'canvas' });
chart.setOption(option);
</script>
</body>
</html>
